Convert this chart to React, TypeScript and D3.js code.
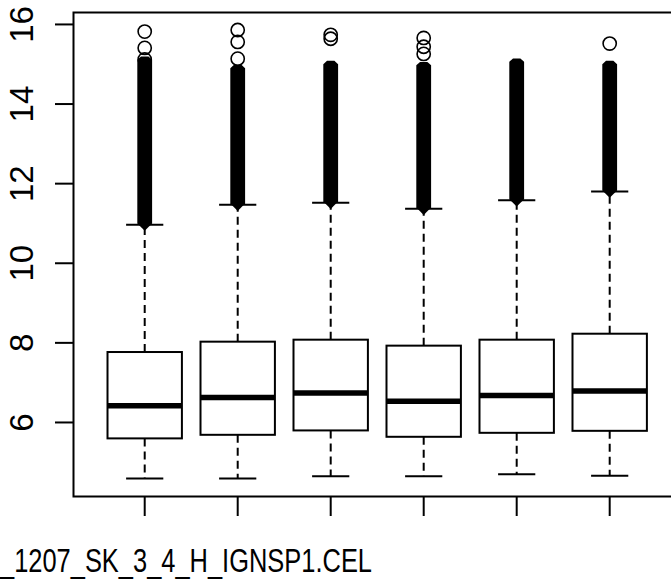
import React from "react";
import * as d3 from "d3";

// Box statistics per array (log2 intensities)
const boxIndex = [1, 2, 3, 4, 5, 6];
const lowerWhisker = [4.59, 4.59, 4.65, 4.65, 4.7, 4.66];
const q1 = [5.6, 5.69, 5.8, 5.64, 5.74, 5.79];
const medians = [6.42, 6.63, 6.74, 6.53, 6.68, 6.79];
const q3 = [7.77, 8.03, 8.08, 7.93, 8.08, 8.23];
const upperWhisker = [10.97, 11.47, 11.52, 11.37, 11.58, 11.8];
// Dense run of outliers just above each upper whisker (lowest, highest)
const denseOutlierLow = [11.0, 11.5, 11.55, 11.4, 11.61, 11.83];
const denseOutlierHigh = [15.01, 14.8, 14.9, 14.87, 14.96, 14.9];
// Separate outliers above the dense run
const sparseOutliers = [
  [15.12, 15.41, 15.82],
  [15.14, 15.56, 15.86],
  [15.64, 15.74],
  [15.26, 15.44, 15.66],
  [],
  [15.52],
];
const yTicks = [6, 8, 10, 12, 14, 16];
const xLabel = "_1207_SK_3_4_H_IGNSP1.CEL";

const W = 671;
const H = 581;
const FONT = "'Liberation Sans', Arial, sans-serif";

export default function App() {
  const x = d3.scaleLinear().domain([0.23, 6.77]).range([73.1, 681.3]);
  const y = d3.scaleLinear().domain([4.14, 16.3]).range([496.5, 12.5]);
  const unit = x(2) - x(1);
  const boxW = unit * 0.8;
  const capW = boxW / 2;
  const R = 6.6; // outlier circle radius
  const RO = R + 0.8;

  const densePath = (cx: number, lo: number, hi: number) => {
    const yT = y(hi);
    const yB = y(lo);
    const p = d3.path();
    p.moveTo(cx - RO, yB);
    p.lineTo(cx - RO, yT - RO * 0.55);
    p.lineTo(cx - RO * 0.5, yT - RO);
    p.lineTo(cx + RO * 0.5, yT - RO);
    p.lineTo(cx + RO, yT - RO * 0.55);
    p.lineTo(cx + RO, yB);
    p.lineTo(cx, yB + RO);
    p.closePath();
    return p.toString();
  };

  return (
    <svg width={W} height={H} style={{ display: "block" }}>
      <style>{`body{margin:0}`}</style>
      <rect x={0} y={0} width={W} height={H} fill="#fff" />

      {boxIndex.map((b, i) => {
        const cx = x(b);
        return (
          <g key={b}>
            {/* whiskers */}
            <line x1={cx} x2={cx} y1={y(q3[i])} y2={y(upperWhisker[i])} stroke="#000" strokeWidth={2} strokeDasharray="8,5" />
            <line x1={cx} x2={cx} y1={y(q1[i])} y2={y(lowerWhisker[i])} stroke="#000" strokeWidth={2} strokeDasharray="8,5" />
            <line x1={cx - capW / 2} x2={cx + capW / 2} y1={y(upperWhisker[i])} y2={y(upperWhisker[i])} stroke="#000" strokeWidth={2} />
            <line x1={cx - capW / 2} x2={cx + capW / 2} y1={y(lowerWhisker[i])} y2={y(lowerWhisker[i])} stroke="#000" strokeWidth={2} />
            {/* box */}
            <rect x={cx - boxW / 2} y={y(q3[i])} width={boxW} height={y(q1[i]) - y(q3[i])} fill="#fff" stroke="#000" strokeWidth={2} />
            <line x1={cx - boxW / 2} x2={cx + boxW / 2} y1={y(medians[i])} y2={y(medians[i])} stroke="#000" strokeWidth={5.5} />
            {/* outliers */}
            <path d={densePath(cx, denseOutlierLow[i], denseOutlierHigh[i])} fill="#000" />
            {sparseOutliers[i].map((v, k) => (
              <circle key={k} cx={cx} cy={y(v)} r={R} fill="none" stroke="#000" strokeWidth={1.6} />
            ))}
          </g>
        );
      })}

      {/* plot frame */}
      <rect x={73.5} y={12.5} width={700} height={484} fill="none" stroke="#000" strokeWidth={2} />

      {/* y axis */}
      {yTicks.map((t) => (
        <g key={t}>
          <line x1={55} x2={73.5} y1={y(t)} y2={y(t)} stroke="#000" strokeWidth={2} />
          <text
            transform={`translate(33,${y(t)}) rotate(-90)`}
            textAnchor="middle"
            fontFamily={FONT}
            fontSize={33}
            fill="#000"
          >
            {t}
          </text>
        </g>
      ))}

      {/* x axis */}
      {boxIndex.map((b) => (
        <line key={b} x1={x(b)} x2={x(b)} y1={496.5} y2={516} stroke="#000" strokeWidth={2} />
      ))}
      <text x={0} y={572} fontFamily={FONT} fontSize={33} fill="#000" textLength={372} lengthAdjust="spacingAndGlyphs">
        {xLabel}
      </text>
    </svg>
  );
}
